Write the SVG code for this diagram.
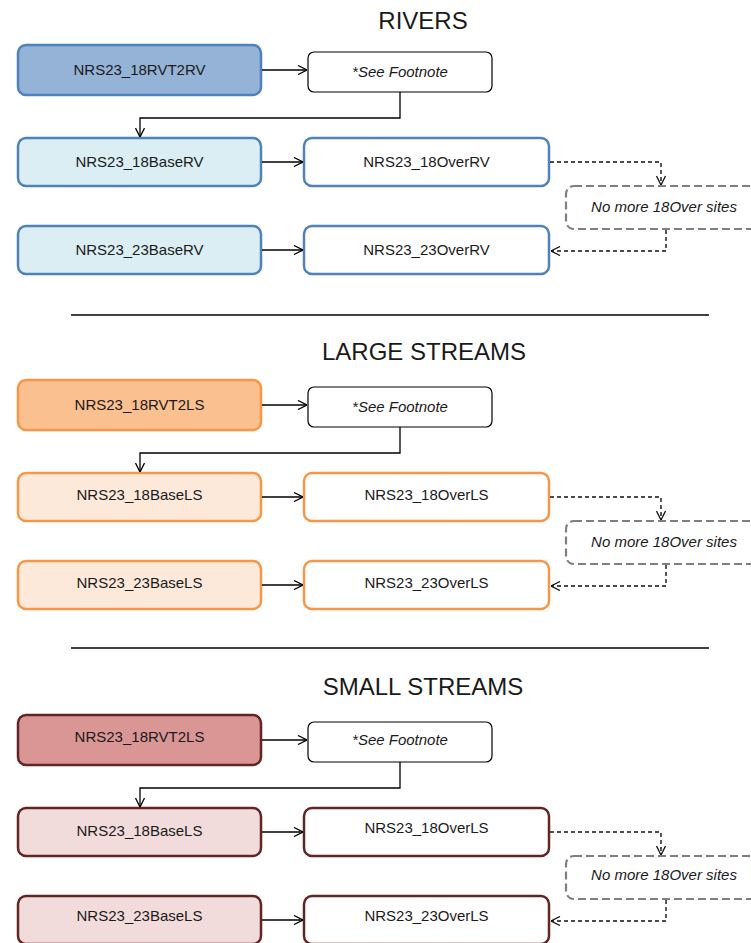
<svg xmlns="http://www.w3.org/2000/svg" width="751" height="943" viewBox="0 0 751 943">
<defs>
<marker id="arr" viewBox="0 0 10 10" refX="10" refY="5" markerWidth="10" markerHeight="10" markerUnits="userSpaceOnUse" orient="auto">
<path d="M1,0.5 L10,5 L1,9.5" fill="none" stroke="#000" stroke-width="1.3"/>
</marker>
<marker id="arrd" viewBox="0 0 10 10" refX="10" refY="5" markerWidth="10" markerHeight="10" markerUnits="userSpaceOnUse" orient="auto">
<path d="M1,0.5 L10,5 L1,9.5" fill="none" stroke="#111" stroke-width="1.3"/>
</marker>
<style>
text{font-family:"Liberation Sans",Arial,sans-serif;fill:#1a1a1a}
.t{font-size:15px;text-anchor:middle}
.i{font-size:15px;text-anchor:middle;font-style:italic}
.h{font-size:24px;text-anchor:middle}
.n{stroke-width:2.5}
.fn{fill:#fff;stroke:#000;stroke-width:1.2}
.nm{fill:#fff;stroke:#7f7f7f;stroke-width:2.2;stroke-dasharray:8,4}
.c{fill:none;stroke:#000;stroke-width:1.3}
.d{fill:none;stroke:#111;stroke-width:1.4;stroke-dasharray:4,3}
.sep{stroke:#000;stroke-width:1.5}
.rv{stroke:#4f81bd}.rv1{fill:#95b3d7}.rv2{fill:#dbeef4}
.ls{stroke:#f79646}.ls1{fill:#fac08f}.ls2{fill:#fde9d9}
.ss{stroke:#632523}.ss1{fill:#d99694}.ss2{fill:#f2dcdb}
.w{fill:#fff}
</style>
</defs>
<rect width="751" height="943" fill="#fff"/>
<line class="sep" x1="71" y1="315" x2="709" y2="315"/>
<line class="sep" x1="71" y1="648" x2="709" y2="648"/>

<!-- RIVERS -->
<g id="rivers">
<text class="h" x="423" y="29">RIVERS</text>
<g id="rv-18RVT2RV"><rect class="n rv rv1" x="18" y="45" width="243" height="50" rx="8"/><text class="t" x="139.5" y="75">NRS23_18RVT2RV</text></g>
<g id="rv-footnote"><rect class="fn" x="308" y="52" width="184" height="40" rx="6"/><text class="i" x="400" y="77">*See Footnote</text></g>
<g id="rv-18BaseRV"><rect class="n rv rv2" x="18" y="138" width="243" height="48" rx="8"/><text class="t" x="139.5" y="167">NRS23_18BaseRV</text></g>
<g id="rv-18OverRV"><rect class="n rv w" x="304" y="138" width="245" height="48" rx="8"/><text class="t" x="426.5" y="167">NRS23_18OverRV</text></g>
<g id="rv-nomore"><rect class="nm" x="566" y="186" width="200" height="43" rx="8"/><text class="i" x="664" y="212">No more 18Over sites</text></g>
<g id="rv-23BaseRV"><rect class="n rv rv2" x="18" y="226" width="243" height="48" rx="8"/><text class="t" x="139.5" y="255">NRS23_23BaseRV</text></g>
<g id="rv-23OverRV"><rect class="n rv w" x="304" y="226" width="245" height="48" rx="8"/><text class="t" x="426.5" y="255">NRS23_23OverRV</text></g>
<g id="rv-connectors">
<path class="c" d="M262,70 H307" marker-end="url(#arr)"/>
<path class="c" d="M400,92 V118 H140 V137" marker-end="url(#arr)"/>
<path class="c" d="M262,162 H303" marker-end="url(#arr)"/>
<path class="c" d="M262,250 H303" marker-end="url(#arr)"/>
<path class="d" d="M550,162 H661 V185" marker-end="url(#arrd)"/>
<path class="d" d="M666,230 V251 H551" marker-end="url(#arrd)"/>
</g>
</g>

<!-- LARGE STREAMS -->
<g id="large" transform="translate(0,335)">
<text class="h" x="424" y="25">LARGE STREAMS</text>
<g id="ls-18RVT2LS"><rect class="n ls ls1" x="18" y="45" width="243" height="50" rx="8"/><text class="t" x="139.5" y="75">NRS23_18RVT2LS</text></g>
<g id="ls-footnote"><rect class="fn" x="308" y="52" width="184" height="40" rx="6"/><text class="i" x="400" y="77">*See Footnote</text></g>
<g id="ls-18BaseLS"><rect class="n ls ls2" x="18" y="138" width="243" height="48" rx="8"/><text class="t" x="139.5" y="165">NRS23_18BaseLS</text></g>
<g id="ls-18OverLS"><rect class="n ls w" x="304" y="138" width="245" height="48" rx="8"/><text class="t" x="426.5" y="165">NRS23_18OverLS</text></g>
<g id="ls-nomore"><rect class="nm" x="566" y="186" width="200" height="43" rx="8"/><text class="i" x="664" y="212">No more 18Over sites</text></g>
<g id="ls-23BaseLS"><rect class="n ls ls2" x="18" y="226" width="243" height="48" rx="8"/><text class="t" x="139.5" y="253">NRS23_23BaseLS</text></g>
<g id="ls-23OverLS"><rect class="n ls w" x="304" y="226" width="245" height="48" rx="8"/><text class="t" x="426.5" y="253">NRS23_23OverLS</text></g>
<g id="ls-connectors">
<path class="c" d="M262,70 H307" marker-end="url(#arr)"/>
<path class="c" d="M400,92 V118 H140 V137" marker-end="url(#arr)"/>
<path class="c" d="M262,162 H303" marker-end="url(#arr)"/>
<path class="c" d="M262,250 H303" marker-end="url(#arr)"/>
<path class="d" d="M550,162 H661 V185" marker-end="url(#arrd)"/>
<path class="d" d="M666,230 V251 H551" marker-end="url(#arrd)"/>
</g>
</g>

<!-- SMALL STREAMS -->
<g id="small" transform="translate(0,670)">
<text class="h" x="423" y="25">SMALL STREAMS</text>
<g id="ss-18RVT2LS"><rect class="n ss ss1" x="18" y="45" width="243" height="50" rx="8"/><text class="t" x="139.5" y="72">NRS23_18RVT2LS</text></g>
<g id="ss-footnote"><rect class="fn" x="308" y="52" width="184" height="40" rx="6"/><text class="i" x="400" y="75">*See Footnote</text></g>
<g id="ss-18BaseLS"><rect class="n ss ss2" x="18" y="138" width="243" height="48" rx="8"/><text class="t" x="139.5" y="166">NRS23_18BaseLS</text></g>
<g id="ss-18OverLS"><rect class="n ss w" x="304" y="138" width="245" height="48" rx="8"/><text class="t" x="426.5" y="163">NRS23_18OverLS</text></g>
<g id="ss-nomore"><rect class="nm" x="566" y="186" width="200" height="43" rx="8"/><text class="i" x="664" y="210">No more 18Over sites</text></g>
<g id="ss-23BaseLS"><rect class="n ss ss2" x="18" y="226" width="243" height="48" rx="8"/><text class="t" x="139.5" y="251">NRS23_23BaseLS</text></g>
<g id="ss-23OverLS"><rect class="n ss w" x="304" y="226" width="245" height="48" rx="8"/><text class="t" x="426.5" y="251">NRS23_23OverLS</text></g>
<g id="ss-connectors">
<path class="c" d="M262,70 H307" marker-end="url(#arr)"/>
<path class="c" d="M400,92 V118 H140 V137" marker-end="url(#arr)"/>
<path class="c" d="M262,162 H303" marker-end="url(#arr)"/>
<path class="c" d="M262,250 H303" marker-end="url(#arr)"/>
<path class="d" d="M550,162 H661 V185" marker-end="url(#arrd)"/>
<path class="d" d="M666,230 V251 H551" marker-end="url(#arrd)"/>
</g>
</g>
</svg>
